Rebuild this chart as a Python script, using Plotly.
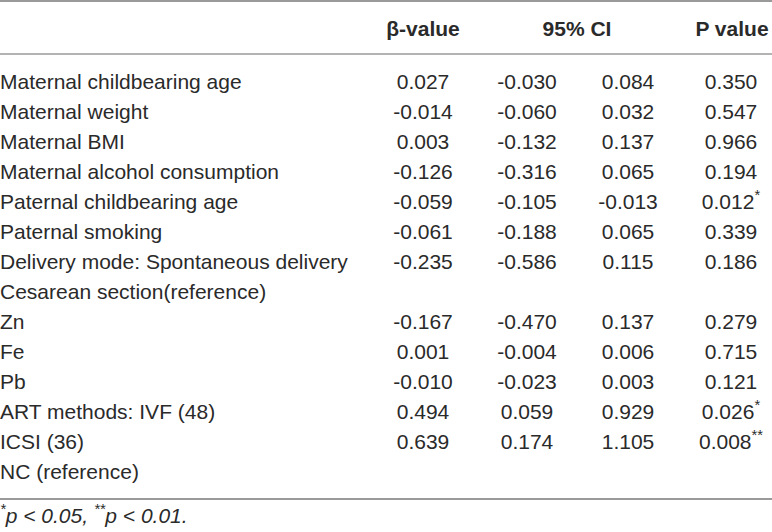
import plotly.graph_objects as go

# table content
labels = [
    "Maternal childbearing age",
    "Maternal weight",
    "Maternal BMI",
    "Maternal alcohol consumption",
    "Paternal childbearing age",
    "Paternal smoking",
    "Delivery mode: Spontaneous delivery",
    "Cesarean section(reference)",
    "Zn",
    "Fe",
    "Pb",
    "ART methods: IVF (48)",
    "ICSI (36)",
    "NC (reference)",
]
beta = ["0.027", "-0.014", "0.003", "-0.126", "-0.059", "-0.061", "-0.235", "",
        "-0.167", "0.001", "-0.010", "0.494", "0.639", ""]
ci_low = ["-0.030", "-0.060", "-0.132", "-0.316", "-0.105", "-0.188", "-0.586", "",
          "-0.470", "-0.004", "-0.023", "0.059", "0.174", ""]
ci_high = ["0.084", "0.032", "0.137", "0.065", "-0.013", "0.065", "0.115", "",
           "0.137", "0.006", "0.003", "0.929", "1.105", ""]
p_value = ["0.350", "0.547", "0.966", "0.194", "0.012<sup>*</sup>", "0.339", "0.186", "",
           "0.279", "0.715", "0.121", "0.026<sup>*</sup>", "0.008<sup>**</sup>", ""]
headers = ["<b>β-value</b>", "<b>95% CI</b>", "<b>P value</b>"]
footnote = "<i><sup>*</sup>p < 0.05, <sup>**</sup>p < 0.01.</i>"

W, H = 772, 532
FONT = "Liberation Sans, Arial, sans-serif"
FS = 21
TXT = "#2a2a2a"
RULE = "#9a9a9a"

# layout (pixels)
col_x = [423, 527, 628, 731]
head_x = [423, 577, 732]
head_y = 31
row0, row_step = 84, 30.0
rows_y = [row0 + row_step * i for i in range(len(labels))]

tf = dict(family=FONT, size=FS, color=TXT)
fig = go.Figure()

fig.add_trace(go.Scatter(x=head_x, y=[head_y] * 3, mode="text", text=headers,
                         textposition="middle center", textfont=tf, cliponaxis=False))

fig.add_trace(go.Scatter(x=[0] * len(labels), y=rows_y, mode="text", text=labels,
                         textposition="middle right", textfont=tf, cliponaxis=False))

for cx, col in zip(col_x, [beta, ci_low, ci_high, p_value]):
    ys = [y for y, t in zip(rows_y, col) if t]
    ts = [t for t in col if t]
    fig.add_trace(go.Scatter(x=[cx] * len(ts), y=ys, mode="text", text=ts,
                             textposition="middle center", textfont=tf, cliponaxis=False))

fig.add_trace(go.Scatter(x=[0], y=[518], mode="text", text=[footnote],
                         textposition="middle right", textfont=tf, cliponaxis=False))

# table rules
for yy, w in [(1, 2), (54, 1.5), (499, 2)]:
    fig.add_shape(type="line", x0=0, x1=W, y0=yy, y1=yy, xref="x", yref="y",
                  line=dict(color=RULE, width=w))

fig.update_layout(
    width=W, height=H,
    margin=dict(l=0, r=0, t=0, b=0),
    paper_bgcolor="white", plot_bgcolor="white",
    showlegend=False,
    xaxis=dict(range=[0, W], visible=False, fixedrange=True),
    yaxis=dict(range=[H, 0], visible=False, fixedrange=True),
)

fig.write_html("out.html", config={"displayModeBar": False},
               post_script="document.body.style.margin='0';")
